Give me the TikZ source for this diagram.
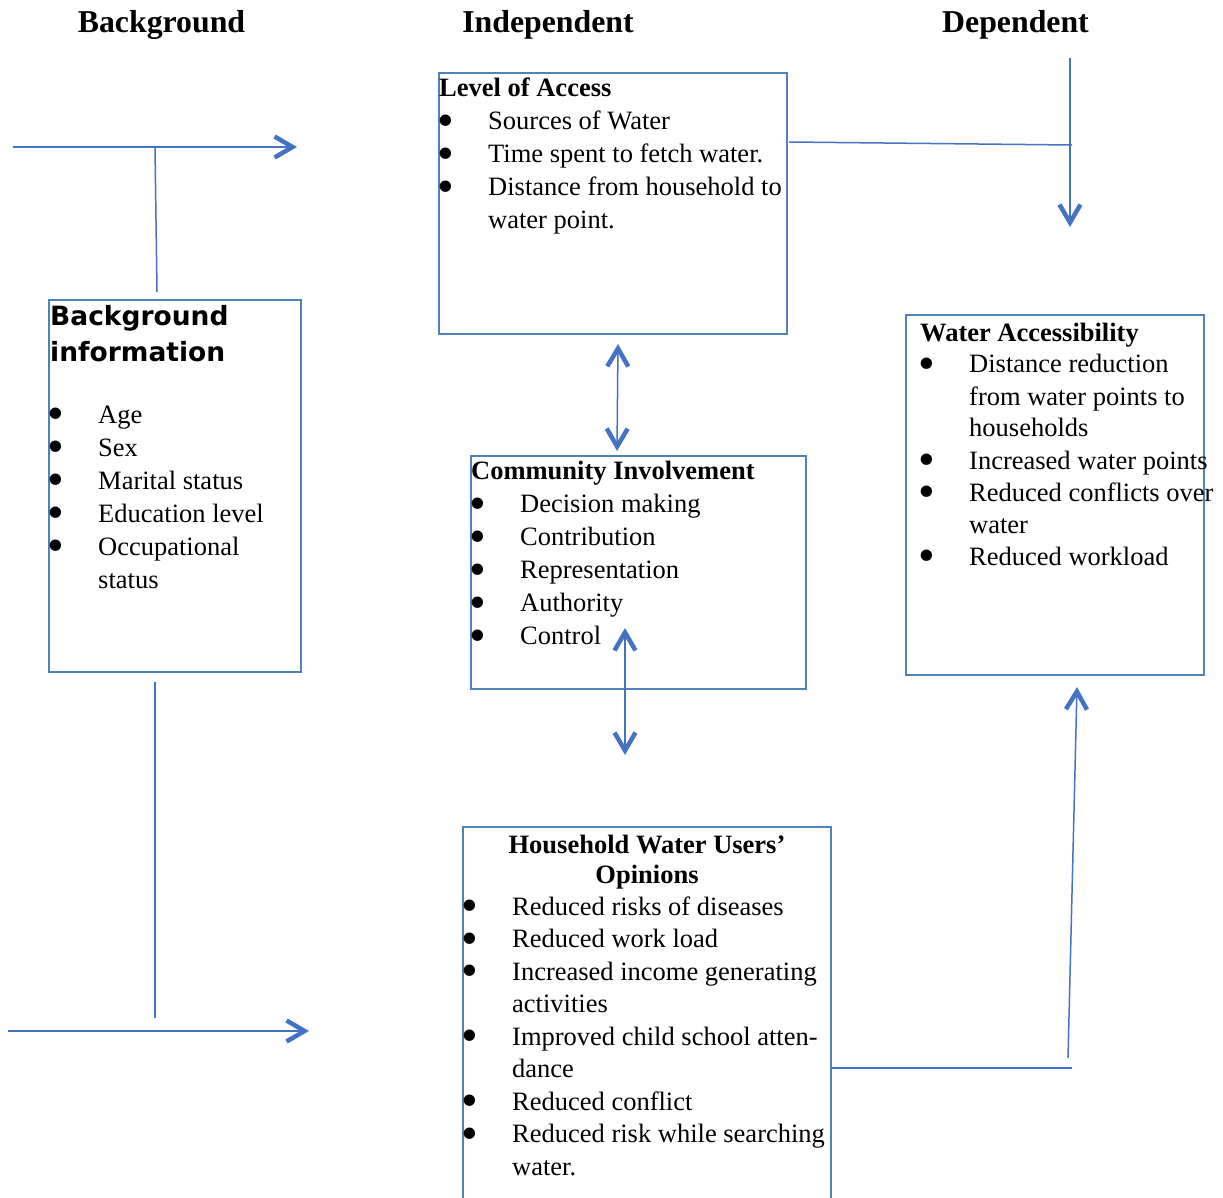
\documentclass[tikz,border=0pt]{standalone}
\usepackage{fontspec}
\setmainfont{Liberation Serif}
\newfontfamily\dejavu{DejaVu Sans}
\usepackage{xcolor}
\usetikzlibrary{arrows.meta, positioning, calc}
\definecolor{boxBlue}{RGB}{79,129,189}
\definecolor{lineBlue}{RGB}{68,114,196}
\newcommand{\bitem}{\makebox[49pt][l]{\hspace*{-2pt}\smash{\raisebox{-6.5pt}{\scalebox{1.8}{\textbullet}}}}}
\newcommand{\bcont}{\hspace*{49pt}}

\begin{document}
\begin{tikzpicture}[x=1pt, y=-1pt,
    box/.style={draw=boxBlue, line width=2pt, inner sep=0pt},
    conn/.style={draw=lineBlue, line width=1.5pt},
    arr/.style={-{Straight Barb[length=18pt, width=21pt, line width=4.5pt]}},
    dblarr/.style={{Straight Barb[length=18pt, width=21pt, line width=4.5pt]}-{Straight Barb[length=18pt, width=21pt, line width=4.5pt]}},
    colhead/.style={font=\bfseries\fontsize{31.8}{38}\selectfont, anchor=base, inner sep=0pt},
    txt/.style={anchor=base west, inner sep=0pt, font=\fontsize{26.5}{33}\selectfont}]
  \useasboundingbox (0,0) rectangle (1223,1198);

  % column headings
  \node[colhead] (hbg) at (161.5,33) {Background};
  \node[colhead] (hind) at (548,33) {Independent};
  \node[colhead] (hdep) at (1015.5,33) {Dependent};

  % boxes
  \node[box, minimum width=252pt, minimum height=372pt] (bginfo) at (175,486) {};
  \node[box, minimum width=348pt, minimum height=261pt] (access) at (613,203.5) {};
  \node[box, minimum width=335pt, minimum height=233pt] (involve) at (638.5,572.5) {};
  \node[box, minimum width=298pt, minimum height=360pt] (accessib) at (1055,495) {};
  \node[box, minimum width=368pt, minimum height=380pt] (opinions) at (647,1017) {};

  % box texts
  \node[anchor=base west, inner sep=0pt, font=\dejavu\bfseries\fontsize{26.5}{36.7}\selectfont] (bgtitle) at (50,325)
    {\begin{tabular}[t]{@{}l@{}}Background\\information\end{tabular}};
  \node[txt] (bglist) at (49,423) {\begin{tabular}[t]{@{}l@{}}
    \bitem Age\\
    \bitem Sex\\
    \bitem Marital status\\
    \bitem Education level\\
    \bitem Occupational\\
    \bcont status
  \end{tabular}};
  \node[txt] (accesstxt) at (439,97) {\begin{tabular}[t]{@{}l@{}}
    \textbf{Level of Access}\\
    \bitem Sources of Water\\
    \bitem Time spent to fetch water.\\
    \bitem Distance from household to\\
    \bcont water point.
  \end{tabular}};
  \node[txt] (involvetxt) at (471,479.5) {\begin{tabular}[t]{@{}l@{}}
    \textbf{Community Involvement}\\
    \bitem Decision making\\
    \bitem Contribution\\
    \bitem Representation\\
    \bitem Authority\\
    \bitem Control
  \end{tabular}};
  \node[txt, font=\fontsize{26.5}{32}\selectfont] (accessibtxt) at (920,341) {\begin{tabular}[t]{@{}l@{}}
    \textbf{Water Accessibility}\\
    \bitem Distance reduction\\
    \bcont from water points to\\
    \bcont households\\
    \bitem Increased water points\\
    \bitem Reduced conflicts over\\
    \bcont water\\
    \bitem Reduced workload
  \end{tabular}};
  \node[anchor=base, inner sep=0pt, font=\bfseries\fontsize{26.5}{30}\selectfont] (optitle) at (647,853)
    {\begin{tabular}[t]{@{}c@{}}Household Water Users’\\Opinions\end{tabular}};
  \node[txt, font=\fontsize{26.5}{32.5}\selectfont] (oplist) at (463,915) {\begin{tabular}[t]{@{}l@{}}
    \bitem Reduced risks of diseases\\
    \bitem Reduced work load\\
    \bitem Increased income generating\\
    \bcont activities\\
    \bitem Improved child school atten-\\
    \bcont dance\\
    \bitem Reduced conflict\\
    \bitem Reduced risk while searching\\
    \bcont water.
  \end{tabular}};

  % connectors
  \coordinate (inA) at (13,147);
  \coordinate (inB) at (297,147);
  \coordinate (inJ) at (155,147);
  \draw[conn, arr] (inA) -- (inB);
  \draw[conn] (inJ) -- ($(bginfo.north)+(-18,-7)$);

  \coordinate (outJ) at (155,1018);
  \coordinate (outA) at (8,1031);
  \coordinate (outB) at (309,1031);
  \draw[conn] ($(bginfo.south)+(-20,9)$) -- (outJ);
  \draw[conn, arr] (outA) -- (outB);

  \coordinate (depTop) at (1070,58);
  \coordinate (depJ) at (1072,145);
  \coordinate (depTip) at (1070,227);
  \draw[conn] ($(access.north east)+(1,70)$) -- (depJ);
  \draw[conn, arr] (depTop) -- (depTip);

  \draw[conn, dblarr] ($(access.south)+(5,9)$) -- ($(involve.north)+(-21.5,-4)$);
  \draw[conn, dblarr] ($(involve.south)+(-13.5,-62)$) -- ($(opinions.north)+(-22,-71)$);

  \coordinate (hhJ) at (1072,1068);
  \coordinate (hhUp) at (1068,1058);
  \draw[conn] ($(opinions.east)+(-1,51)$) -- (hhJ);
  \draw[conn, arr] (hhUp) -- ($(accessib.south)+(22,11)$);
\end{tikzpicture}
\end{document}
